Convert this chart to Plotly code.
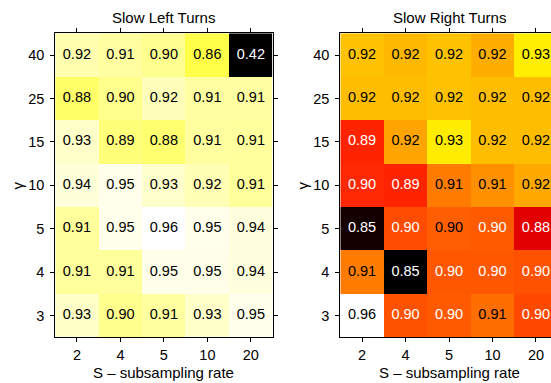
import plotly.graph_objects as go

# Subsampling rates (columns) and gamma values (rows, bottom to top)
s_rates = ["2", "4", "5", "10", "20"]
gammas = ["3", "4", "5", "10", "15", "25", "40"]

# Accuracy, slow left turns (rows follow `gammas`)
left_acc = [
    [0.932, 0.901, 0.910, 0.933, 0.951],
    [0.908, 0.908, 0.950, 0.950, 0.944],
    [0.908, 0.952, 0.962, 0.952, 0.944],
    [0.942, 0.951, 0.934, 0.922, 0.908],
    [0.933, 0.890, 0.884, 0.910, 0.909],
    [0.880, 0.901, 0.924, 0.912, 0.911],
    [0.919, 0.912, 0.902, 0.864, 0.420],
]

# Accuracy, slow right turns
right_acc = [
    [0.9620, 0.9025, 0.9040, 0.9074, 0.9009],
    [0.9099, 0.8460, 0.9032, 0.9032, 0.9025],
    [0.8493, 0.9015, 0.9048, 0.9040, 0.8835],
    [0.8952, 0.8944, 0.9099, 0.9134, 0.9177],
    [0.8946, 0.9168, 0.9292, 0.9211, 0.9211],
    [0.9211, 0.9211, 0.9219, 0.9211, 0.9211],
    [0.9219, 0.9203, 0.9219, 0.9185, 0.9296],
]

panel_titles = ["Slow Left Turns", "Slow Right Turns"]
x_title = "S \u2013 subsampling rate"
y_title = "\u03b3"

W, H = 560, 383
FONT = "Liberation Sans, Arial, Helvetica, sans-serif"

# MATLAB-style "hot" colour map
hot = [
    [0.0, "rgb(0,0,0)"],
    [23 / 63, "rgb(255,0,0)"],
    [47 / 63, "rgb(255,255,0)"],
    [1.0, "rgb(255,255,255)"],
]

# plot areas in pixels: (left, right), shared top/bottom
px_x = [(55.2, 272.6), (340.3, 557.7)]
px_top, px_bottom = 33.3, 337.3
ydom = [(H - px_bottom) / H, (H - px_top) / H]

fig = go.Figure()
annotations = []

for k, acc in enumerate([left_acc, right_acc]):
    xa = "x" if k == 0 else "x2"
    ya = "y" if k == 0 else "y2"
    flat = [v for row in acc for v in row]
    lo, hi = min(flat), max(flat)

    fig.add_trace(go.Heatmap(
        x=s_rates, y=gammas, z=acc,
        colorscale=hot, zmin=lo, zmax=hi,
        showscale=False, hoverinfo="skip",
        xaxis=xa, yaxis=ya,
    ))

    # cell labels: white on dark cells, black elsewhere
    tx, ty, tt, tc = [], [], [], []
    for i, g in enumerate(gammas):
        for j, s in enumerate(s_rates):
            v = acc[i][j]
            tx.append(s)
            ty.append(g)
            tt.append(f"{v:.2f}")
            tc.append("white" if (v - lo) / (hi - lo) < 0.505 else "black")
    fig.add_trace(go.Scatter(
        x=tx, y=ty, text=tt, mode="text",
        textfont=dict(family=FONT, size=14.5, color=tc),
        hoverinfo="skip", showlegend=False,
        xaxis=xa, yaxis=ya,
    ))

    x0, x1 = px_x[k]
    axis_common = dict(
        showgrid=False, zeroline=False, showline=True, linecolor="black",
        linewidth=1, mirror="ticks", ticks="outside", ticklen=4,
        tickcolor="black", tickwidth=1, automargin=False,
        tickfont=dict(family=FONT, size=14.5, color="black"),
        type="category",
    )
    fig.update_layout(**{
        ("xaxis" if k == 0 else "xaxis2"): dict(
            axis_common, domain=[x0 / W, x1 / W], range=[-0.5, 4.5],
            categoryorder="array", categoryarray=s_rates,
            anchor=ya,
        ),
        ("yaxis" if k == 0 else "yaxis2"): dict(
            axis_common, domain=ydom, range=[-0.5, 6.5],
            categoryorder="array", categoryarray=gammas,
            anchor=xa, ticklabelstandoff=3,
        ),
    })

    cx = (x0 + x1) / 2 / W
    annotations += [
        dict(text=panel_titles[k], x=cx, y=(H - 17) / H, xref="paper",
             yref="paper", showarrow=False, xanchor="center",
             yanchor="middle", font=dict(family=FONT, size=15, color="black")),
        dict(text=x_title, x=cx, y=(H - 372) / H, xref="paper",
             yref="paper", showarrow=False, xanchor="center",
             yanchor="middle", font=dict(family=FONT, size=15, color="black")),
        dict(text=y_title, x=(x0 - 38) / W, y=sum(ydom) / 2, xref="paper",
             yref="paper", showarrow=False, xanchor="center",
             yanchor="middle", textangle=-90,
             font=dict(family=FONT, size=15, color="black")),
    ]

fig.update_layout(
    width=W, height=H,
    margin=dict(l=0, r=0, t=0, b=0),
    paper_bgcolor="white", plot_bgcolor="white",
    showlegend=False, annotations=annotations,
)

fig.write_html(
    "out.html",
    post_script="document.documentElement.style.overflow='hidden';"
                "document.body.style.overflow='hidden';",
)
